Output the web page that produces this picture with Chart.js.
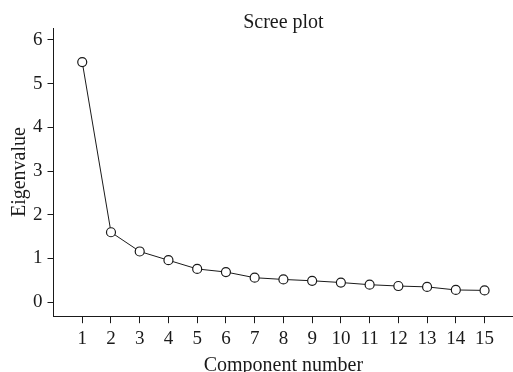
<!DOCTYPE html>
<html>
<head>
<meta charset="utf-8">
<script src="https://cdn.jsdelivr.net/npm/chart.js@4.4.1/dist/chart.umd.min.js"></script>
<style>
  html, body { margin: 0; padding: 0; background: #fff; overflow: hidden; }
  #wrap { width: 513px; height: 372px; overflow: hidden; }
</style>
</head>
<body>
<div id="wrap"><canvas id="scree" width="519" height="372"></canvas></div>
<script>
// Component numbers and eigenvalues
var components = [1, 2, 3, 4, 5, 6, 7, 8, 9, 10, 11, 12, 13, 14, 15];
var eigenvalues = [5.49, 1.60, 1.16, 0.96, 0.76, 0.69, 0.56, 0.52, 0.49, 0.45, 0.40, 0.37, 0.35, 0.28, 0.27];

// Tick labels on the axes
var xTicks = [1, 2, 3, 4, 5, 6, 7, 8, 9, 10, 11, 12, 13, 14, 15];
var yTicks = [0, 1, 2, 3, 4, 5, 6];

var serif = "'Liberation Serif', 'DejaVu Serif', serif";
var ink = "#1a1a1a";

var points = components.map(function(c, i) { return { x: c, y: eigenvalues[i] }; });

var ctx = document.getElementById("scree").getContext("2d");
var screeChart = new Chart(ctx, {
	type: 'line',
	data: {
		datasets: [{
			label: "Eigenvalue",
			data: points,
			fill: false,
			tension: 0,
			borderColor: ink,
			borderWidth: 1,
			pointRadius: 4.5,
			pointBorderWidth: 1.2,
			pointBorderColor: ink,
			pointBackgroundColor: "#fff"
		}]
	},
	options: {
		responsive: false,
		animation: false,
		layout: { padding: { left: 8, right: 0, top: 0, bottom: -6 } },
		plugins: {
			legend: { display: false },
			tooltip: { enabled: false },
			title: {
				display: true,
				text: "Scree plot",
				color: ink,
				fullSize: false,
				font: { family: serif, size: 20, weight: 'normal' },
				padding: { top: 11, bottom: -7 }
			}
		},
		scales: {
			x: {
				type: 'linear',
				min: 0,
				max: 16,
				afterBuildTicks: function(scale) {
					scale.ticks = xTicks.map(function(v) { return { value: v }; });
				},
				grid: { drawOnChartArea: false, drawTicks: true, tickLength: 7, tickColor: ink },
				border: { display: true, color: ink, width: 1 },
				ticks: { color: ink, padding: 4, maxRotation: 0, autoSkip: false, font: { family: serif, size: 19 } },
				title: {
					display: true,
					text: "Component number",
					color: ink,
					font: { family: serif, size: 20 },
					padding: { top: 0, bottom: 0 }
				}
			},
			y: {
				type: 'linear',
				min: -0.32,
				max: 6.27,
				afterBuildTicks: function(scale) {
					scale.ticks = yTicks.map(function(v) { return { value: v }; });
				},
				grid: { drawOnChartArea: false, drawTicks: true, tickLength: 6, tickColor: ink },
				border: { display: true, color: ink, width: 1 },
				ticks: { color: ink, padding: 5, font: { family: serif, size: 19 } },
				title: {
					display: true,
					text: "Eigenvalue",
					color: ink,
					font: { family: serif, size: 20 },
					padding: { top: 0, bottom: -4 }
				}
			}
		}
	}
});
</script>
</body>
</html>
